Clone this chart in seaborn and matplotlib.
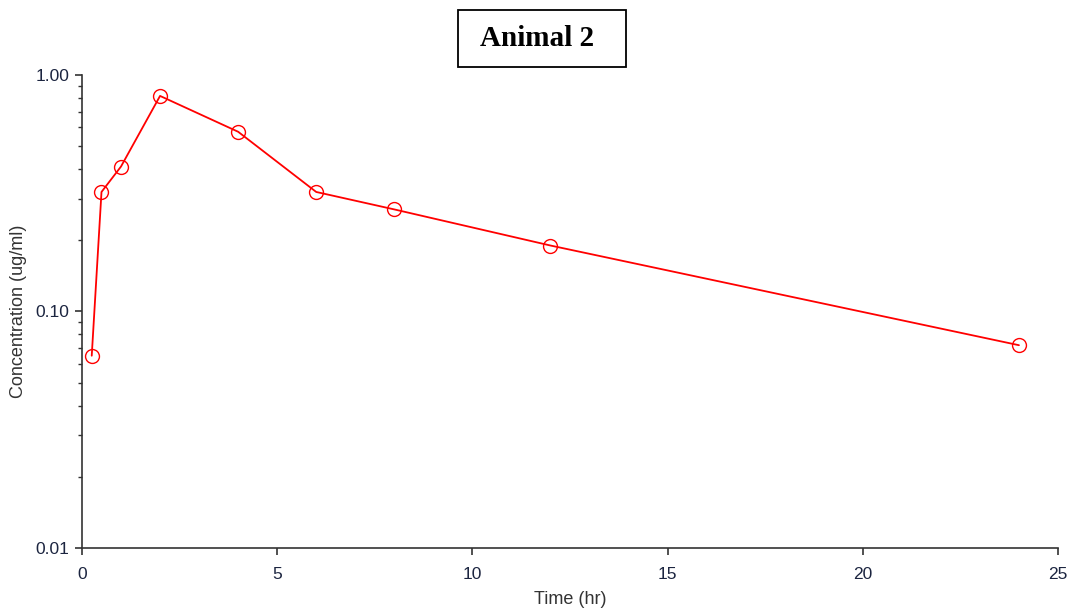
import matplotlib
matplotlib.use("Agg")
import matplotlib.pyplot as plt
import matplotlib.ticker as mticker
from matplotlib.patches import Rectangle
import seaborn as sns
import pandas as pd

# Plasma concentration-time profile
time_hr = [0.25, 0.5, 1, 2, 4, 6, 8, 12, 24]
conc_ug_ml = [0.065, 0.32, 0.41, 0.815, 0.575, 0.32, 0.27, 0.19, 0.072]
x_ticks = [0, 5, 10, 15, 20, 25]
y_ticks = [0.01, 0.10, 1.00]
y_tick_labels = ["0.01", "0.10", "1.00"]
title_text = "Animal 2"

df = pd.DataFrame({"Time (hr)": time_hr, "Concentration (ug/ml)": conc_ug_ml})

sns.set_style("white")
plt.rcParams["font.family"] = ["Liberation Sans", "DejaVu Sans"]

fig = plt.figure(figsize=(10.73, 6.14), dpi=100)
ax = fig.add_axes([0.0764, 0.1075, 0.9096, 0.7705])

sns.lineplot(data=df, x="Time (hr)", y="Concentration (ug/ml)", ax=ax,
             color="#ff0000", linewidth=1.3, marker="o", markersize=10,
             markerfacecolor="none", markeredgecolor="#ff0000",
             markeredgewidth=1.0)

ax.set_yscale("log")
ax.set_xlim(0, 25)
ax.set_ylim(0.01, 1.0)
ax.set_xticks(x_ticks)
ax.set_yticks(y_ticks)
ax.set_yticklabels(y_tick_labels)
ax.yaxis.set_minor_locator(mticker.LogLocator(base=10, subs=range(2, 10)))
ax.yaxis.set_minor_formatter(mticker.NullFormatter())

for side in ("top", "right"):
    ax.spines[side].set_visible(False)
for side in ("left", "bottom"):
    ax.spines[side].set_color("#333333")
    ax.spines[side].set_linewidth(1.2)

ax.tick_params(axis="both", which="major", direction="out", length=5,
               width=1.2, color="#333333", labelsize=12.5,
               labelcolor="#1c2540", left=True, bottom=True)
ax.tick_params(axis="x", which="major", pad=9)
ax.tick_params(axis="y", which="major", pad=4)
ax.tick_params(axis="y", which="minor", direction="out", length=3,
               width=1.0, color="#333333", left=True)

ax.set_xlabel("Time (hr)", fontsize=13, color="#333333", labelpad=6)
ax.set_ylabel("Concentration (ug/ml)", fontsize=13, color="#333333", labelpad=6)

# Boxed title
fig.patches.append(Rectangle((458 / 1073, 1 - 67 / 614), 168 / 1073, 57 / 614,
                             transform=fig.transFigure, facecolor="white",
                             edgecolor="black", linewidth=1.3, zorder=5))
fig.text(537 / 1073, 1 - 38.5 / 614, title_text, ha="center", va="center",
         fontsize=21, fontweight="bold", color="black", zorder=6,
         family=["Liberation Serif", "DejaVu Serif"])
ax.patch.set_alpha(0)

fig.savefig("out.png", dpi=100)
